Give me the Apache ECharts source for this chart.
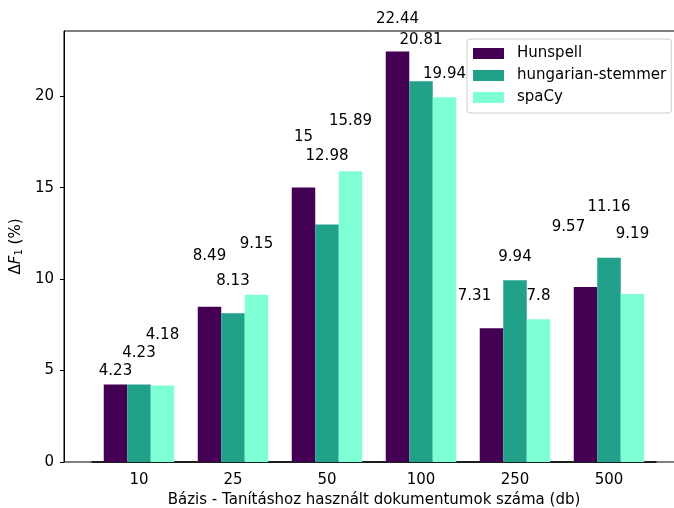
<!DOCTYPE html>
<html>
<head>
<meta charset="utf-8">
<script src="https://cdn.jsdelivr.net/npm/echarts@6/dist/echarts.min.js"></script>
<style>
  html, body { margin: 0; padding: 0; background: #fff; }
  #main { width: 674px; height: 508px; }
</style>
</head>
<body>
<div id="main"></div>
<script>
// adatok
var categories = ['10', '25', '50', '100', '250', '500'];
var seriesNames = ['Hunspell', 'hungarian-stemmer', 'spaCy'];
var hunspell = [4.23, 8.49, 15, 22.44, 7.31, 9.57];
var hungarianStemmer = [4.23, 8.13, 12.98, 20.81, 9.94, 11.16];
var spacy = [4.18, 9.15, 15.89, 19.94, 7.8, 9.19];
var yTicks = [0, 5, 10, 15, 20];

// feliratok magassaga a rud folott (y egysegben)
var labelLift = [
  [0.75, 2.75, 2.75, 1.75, 1.75, 3.25],
  [1.75, 1.75, 3.75, 2.25, 1.25, 2.75],
  [2.75, 2.75, 2.75, 1.25, 1.25, 3.25]
];
var labelShift = [
  [0, 0, 0, 0, -17, -17],
  [0, 0, 0, 0, 0, 0],
  [0, 0, 0, 0, 0, 0]
];

var colors = ['#440154', '#21a08a', '#7fffd4'];
var values = [hunspell, hungarianStemmer, spacy];
var font = 'DejaVu Sans';
var fs = 15;
var barPx = 23.5;

var series = [];
values.forEach(function (vals, s) {
  series.push({
    name: seriesNames[s],
    type: 'bar',
    barWidth: '25%',
    barGap: '0%',
    itemStyle: { color: colors[s] },
    data: vals
  });
});
values.forEach(function (vals, s) {
  series.push({
    name: seriesNames[s] + '-label',
    type: 'scatter',
    symbolSize: 0,
    silent: true,
    clip: false,
    z: 5,
    itemStyle: { opacity: 1 },
    data: vals.map(function (v, i) {
      return {
        value: [i, v + labelLift[s][i]],
        label: { offset: [(s - 1) * barPx + labelShift[s][i], 0] }
      };
    }),
    label: {
      show: true,
      position: 'inside',
      align: 'center',
      verticalAlign: 'middle',
      color: '#000',
      textBorderWidth: 0,
      fontFamily: font,
      fontSize: fs,
      formatter: function (p) { return String(values[s][p.dataIndex]); }
    }
  });
});

var option = {
  animation: false,
  color: colors,
  grid: [
    { left: 92, right: 18, top: 31, bottom: 46, outerBoundsMode: 'none', containLabel: false },
    // keret (spine-ok)
    { left: 64, right: -10, top: 31, bottom: 46, show: true, outerBoundsMode: 'none',
      borderColor: '#000', borderWidth: 1, backgroundColor: 'transparent' }
  ],
  legend: {
    orient: 'vertical',
    left: 467,
    top: 39,
    data: seriesNames,
    itemWidth: 31,
    itemHeight: 11,
    itemGap: 7,
    padding: [7, 5, 8, 6],
    backgroundColor: 'rgba(255,255,255,0.8)',
    borderColor: '#cccccc',
    borderWidth: 1,
    borderRadius: 3,
    icon: 'rect',
    textStyle: {
      fontFamily: font,
      fontSize: fs,
      lineHeight: 15,
      color: '#000',
      padding: [0, 0, 0, 8]
    }
  },
  xAxis: [
    {
      type: 'category',
      gridIndex: 0,
      data: categories,
      name: 'Bázis - Tanításhoz használt dokumentumok száma (db)',
      nameLocation: 'middle',
      nameGap: 30,
      nameTextStyle: { fontFamily: font, fontSize: fs, color: '#000' },
      axisLine: { lineStyle: { color: '#000', width: 1.5 } },
      axisTick: { alignWithLabel: true, length: 4, lineStyle: { color: '#000' } },
      axisLabel: { fontFamily: font, fontSize: fs, color: '#000', margin: 11 }
    },
    { type: 'value', gridIndex: 1, show: false }
  ],
  yAxis: [
    {
      type: 'value',
      gridIndex: 0,
      min: 0,
      max: 23.562,
      offset: 28,
      name: '{d|Δ}{f|F}{s|1}{d| (%)}',
      nameLocation: 'middle',
      nameRotate: 90,
      nameGap: 36,
      nameTextStyle: {
        rich: {
          d: { fontFamily: font, fontSize: fs, color: '#000' },
          f: { fontFamily: font, fontSize: fs, fontStyle: 'italic', color: '#000' },
          s: { fontFamily: font, fontSize: 10, color: '#000', verticalAlign: 'bottom', padding: [6, 0, 0, 0] }
        }
      },
      splitLine: { show: false },
      axisLine: { show: true, lineStyle: { color: '#000' } },
      axisTick: { show: true, length: 4, customValues: yTicks, lineStyle: { color: '#000' } },
      axisLabel: { fontFamily: font, fontSize: fs, color: '#000', margin: 10, customValues: yTicks }
    },
    { type: 'value', gridIndex: 1, show: false }
  ],
  series: series
};

var chart = echarts.init(document.getElementById('main'));
chart.setOption(option);
</script>
</body>
</html>
